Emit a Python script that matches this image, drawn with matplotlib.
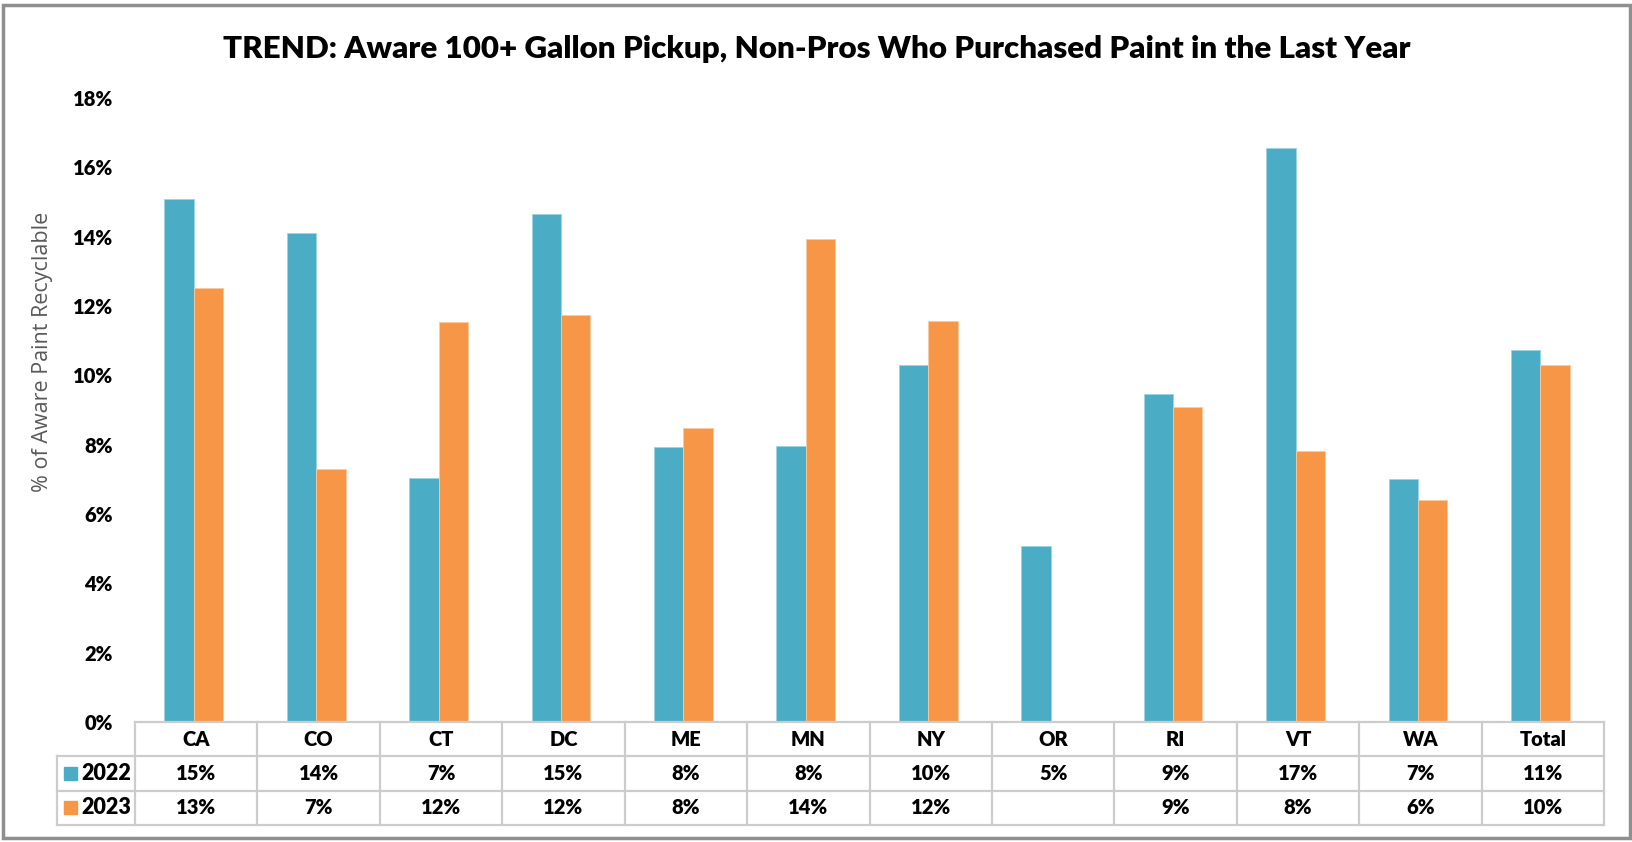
import numpy as np
import matplotlib
matplotlib.use("Agg")
import matplotlib.pyplot as plt
from matplotlib.patches import Rectangle
from matplotlib.lines import Line2D

# ---- data ----
categories = ["CA", "CO", "CT", "DC", "ME", "MN", "NY", "OR", "RI", "VT", "WA", "Total"]
series_names = ["2022", "2023"]
values_2022 = [15.08, 14.10, 7.03, 14.65, 7.93, 7.96, 10.31, 5.08, 9.47, 16.56, 7.02, 10.73]
values_2023 = [12.52, 7.30, 11.53, 11.73, 8.48, 13.94, 11.56, np.nan, 9.09, 7.83, 6.40, 10.29]
y_ticks = [0, 2, 4, 6, 8, 10, 12, 14, 16, 18]
title = "TREND: Aware 100+ Gallon Pickup, Non-Pros Who Purchased Paint in the Last Year"
y_label = "% of Aware Paint Recyclable"
colors = ["#4BACC6", "#F79646"]

plt.rcParams['font.family'] = ['Lato', 'DejaVu Sans']

W, H = 1633, 842
fig = plt.figure(figsize=(W / 100, H / 100), dpi=100)
fig.patch.set_facecolor("white")

def fx(px):
    return px / W

def fy(py):
    return (H - py) / H

# outer frame
fig.add_artist(Rectangle((fx(3), fy(838)), fx(1630) - fx(3), fy(5) - fy(838),
                         transform=fig.transFigure, fill=False,
                         edgecolor="#8f8f8f", linewidth=2.5))

BOLD = "heavy"
FS = 14.5

# ---- bar axes ----
ax_l, ax_r, ax_t, ax_b = 135, 1604, 98, 722
ax = fig.add_axes([fx(ax_l), fy(ax_b), fx(ax_r) - fx(ax_l), fy(ax_t) - fy(ax_b)])
x = np.arange(len(categories))
bw = 0.24
ax.bar(x - bw / 2 - 0.02, values_2022, width=bw, color=colors[0], edgecolor="#9fd3e0", linewidth=0.6)
ax.bar(x + bw / 2 - 0.02, values_2023, width=bw, color=colors[1], edgecolor="#fbc9a0", linewidth=0.6)
ax.set_xlim(-0.5, len(categories) - 0.5)
ax.set_ylim(0, 18)
ax.set_yticks(y_ticks)
ax.set_yticklabels([f"{t}%" for t in y_ticks], fontsize=FS, fontweight=BOLD, color="black")
ax.tick_params(axis="y", length=0, pad=16)
ax.set_xticks([])
for s in ax.spines.values():
    s.set_visible(False)
ax.set_ylabel(y_label, fontsize=15.5, color="#595959", family=["Open Sans", "DejaVu Sans"], va="center")
ax.yaxis.set_label_coords(-0.0633, 0.593)

fig.text(fx(817), fy(49), title, ha="center", va="center", fontsize=22.5, fontweight=BOLD, color="black")

# ---- data table ----
leg_left = 57
cat_w = (ax_r - ax_l) / len(categories)
xl = -0.5 - (ax_l - leg_left) / cat_w
tab_top, tab_bot = 722, 825
tab = fig.add_axes([fx(leg_left), fy(tab_bot), fx(ax_r) - fx(leg_left), fy(tab_top) - fy(tab_bot)])
tab.set_xlim(xl, len(categories) - 0.5)
tab.set_ylim(3, 0)
tab.axis("off")
gc = "#cccccc"
glw = 1.6
xe = len(categories) - 0.5
tab.add_line(Line2D([-0.5, xe], [0, 0], color=gc, lw=glw, clip_on=False))
for r in (1, 2, 3):
    tab.add_line(Line2D([xl, xe], [r, r], color=gc, lw=glw, clip_on=False))
for k in range(len(categories) + 1):
    tab.add_line(Line2D([-0.5 + k, -0.5 + k], [0, 3], color=gc, lw=glw, clip_on=False))
tab.add_line(Line2D([xl, xl], [1, 3], color=gc, lw=glw, clip_on=False))

def fmt(v):
    if v is None or np.isnan(v):
        return ""
    return f"{int(np.floor(v + 0.5))}%"

for i, c in enumerate(categories):
    tab.text(i, 0.5, c, ha="center", va="center", fontsize=FS, fontweight=BOLD)
    tab.text(i, 1.5, fmt(values_2022[i]), ha="center", va="center", fontsize=FS, fontweight=BOLD)
    tab.text(i, 2.5, fmt(values_2023[i]), ha="center", va="center", fontsize=FS, fontweight=BOLD)

sq = 13 / cat_w
for r, (name, col) in enumerate(zip(series_names, colors)):
    yc = 1.5 + r
    x0 = xl + (64 - leg_left) / cat_w
    tab.add_patch(Rectangle((x0, yc - 0.19), sq, 0.38, color=col, clip_on=False))
    tab.text(xl + (81 - leg_left) / cat_w, yc, name, ha="left", va="center", fontsize=FS + 1, fontweight=BOLD)

fig.savefig("out.png", dpi=100)
